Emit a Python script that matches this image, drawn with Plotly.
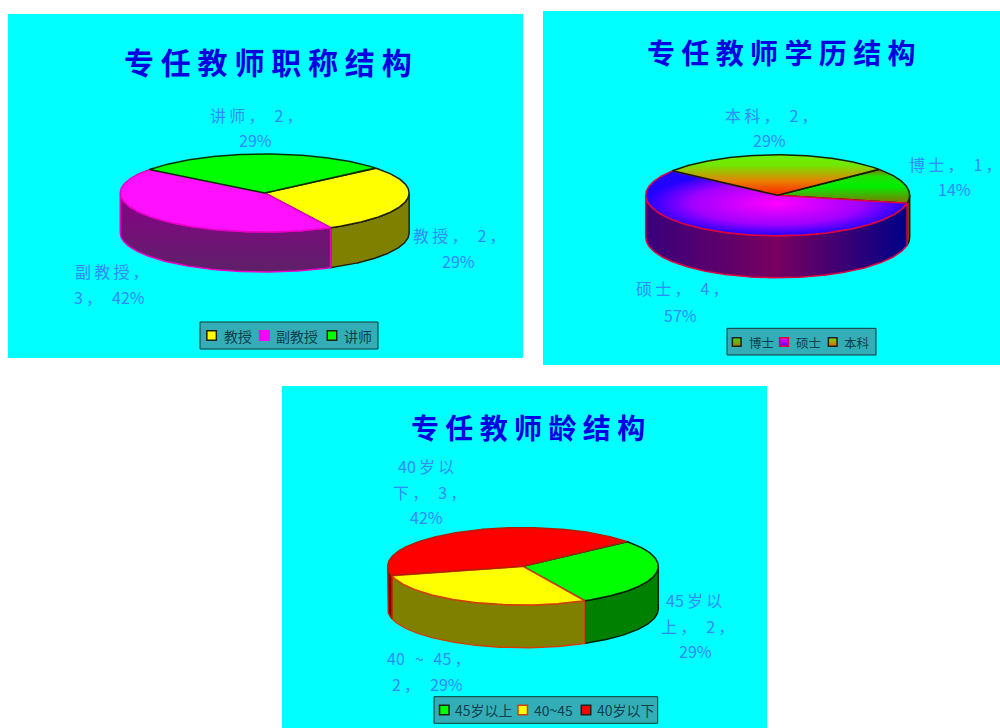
import numpy as np
import plotly.graph_objects as go

# ---------- data ----------
title_names = ["专任教师职称结构", "专任教师学历结构", "专任教师龄结构"]
rank_categories = ["教授", "副教授", "讲师"]
rank_values = [2, 3, 2]
degree_categories = ["博士", "硕士", "本科"]
degree_values = [1, 4, 2]
age_categories = ["45岁以上", "40~45", "40岁以下"]
age_values = [2, 2, 3]
rank_labels = [["教授， 2，", "29%"], ["副教授，", "3， 42%"], ["讲师， 2，", "29%"]]
degree_labels = [["博士， 1，", "14%"], ["硕士， 4，", "57%"], ["本科， 2，", "29%"]]
age_labels = [["45岁以", "上， 2，", "29%"], ["40 ~ 45，", "2， 29%"], ["40岁以", "下， 3，", "42%"]]

# ---------- layout of the page (pixels) ----------
START_ANGLE = 50
LABEL_COLOR = "#2F8CFF"
LEGEND_BG = "#33AEB6"
LEGEND_TEXT = "#104050"
CJK = "Noto Sans CJK SC"


def vert(top, bottom):
    return dict(type="vertical", colorscale=[[0, bottom], [1, top]])


panels = [
    dict(box=(8, 14, 523, 358), cx=264.7, cy=193, rx=144.4, ry=39, depth=40,
         title=(267.5, 61, 30),
         legend=dict(box=(200, 322, 378, 349), swatch_x=[211.6, 264.4, 332], text_x=[222, 273.5, 342],
                     y=335.5, font=14, size=9.5),
         cats=rank_categories, vals=rank_values, labels=rank_labels,
         label_pos=[[(455, 235), (458.4, 261)], [(107.5, 271), (109.5, 297)], [(251.5, 115), (255.6, 140)]],
         top=["#FFFF00", "#FF10FF", "#00FF00"],
         side=["#808000", vert("#8A0088", "#5E2068"), "#008000"],
         line=["#202000", "#E800C8", "#003000"],
         swatch=["#FFFF00", "#FF00FF", "#00FF00"], swatch_grad=[None, None, None],
         swatch_line=["#202020", "#FF00FF", "#202020"]),
    dict(box=(543, 11, 1000, 365), cx=777.7, cy=195.3, rx=132, ry=40.5, depth=42,
         title=(781.5, 52, 28),
         legend=dict(box=(727, 328.3, 876, 355), swatch_x=[736.7, 784, 832.7], text_x=[746.7, 794.3, 842.3],
                     y=342, font=12.5, size=8.7),
         cats=degree_categories, vals=degree_values, labels=degree_labels,
         label_pos=[[(951, 164), (954, 189)], [(677.5, 288), (680, 315)], [(767, 115), (769, 140)]],
         top=[dict(type="vertical", colorscale=[[0, "#8A7000"], [0.5, "#00F000"], [0.8, "#20E000"], [1, "#8A7000"]]),
              dict(type="radial", colorscale=[[0, "#FF00FF"], [0.65, "#A000FF"], [1, "#2000FF"]]),
              dict(type="vertical", colorscale=[[0, "#FF2000"], [0.35, "#E88000"], [0.75, "#70E800"], [1, "#70F000"]])],
         side=["#A03000",
               dict(type="horizontal", colorscale=[[0, "#38007C"], [0.5, "#780060"], [1, "#000088"]]),
               "#808000"],
         line=["#202000", "#E00040", "#102000"],
         swatch=["#40E000", "#FF00FF", "#66E800"], swatch_grad=["#A08000", "#6000FF", "#F06000"],
         swatch_line=["#202020", "#E00040", "#202020"]),
    dict(box=(282, 386, 767, 728), cx=523, cy=566.3, rx=135.3, ry=38.7, depth=42.7,
         title=(527.5, 427, 28),
         legend=dict(box=(434, 696.7, 657.7, 723.3), swatch_x=[444.3, 522.7, 586], text_x=[453.3, 531.7, 595],
                     y=710, font=14, size=9.5),
         cats=age_categories, vals=age_values, labels=age_labels,
         label_pos=[[(694, 600), (693, 626), (695, 651)], [(425, 658), (427, 684)],
                    [(426, 466), (425.5, 492), (426, 517)]],
         top=["#00FF00", "#FFFF00", "#FF0000"],
         side=["#008000", "#808000", "#800000"],
         line=["#002000", "#D04000", "#B02000"],
         swatch=["#00FF00", "#FFFF00", "#FF0000"], swatch_grad=[None, None, None],
         swatch_line=["#202020", "#D04000", "#202020"]),
]


def ring(cx, cy, rx, ry, a0, a1, dy=0.0):
    t = np.radians(np.linspace(a0, a1, max(int(abs(a1 - a0)) * 2, 2)))
    return cx + rx * np.sin(t), cy - ry * np.cos(t) + dy


def styled(trace_args, fill):
    if isinstance(fill, dict):
        trace_args["fillgradient"] = fill
    else:
        trace_args["fillcolor"] = fill
    return trace_args


def track(text):
    """Widen the tracking around CJK characters, as in the reference's bitmap font."""
    out = ""
    for a, b in zip(text, text[1:] + " "):
        out += a
        if a == " ":
            out += "\u2009\u2009"
        elif b != " " and (ord(a) > 0x2E80 or ord(b) > 0x2E80):
            out += "\u2009"
    return out


fig = go.Figure()
shapes, annotations = [], []

for k, p in enumerate(panels):
    x0, y0, x1, y1 = p["box"]
    shapes.append(dict(type="rect", xref="x", yref="y", x0=x0, y0=y0, x1=x1, y1=y1,
                       fillcolor="#00FFFF", line_width=0, layer="below"))
    cx, cy, rx, ry, depth = p["cx"], p["cy"], p["rx"], p["ry"], p["depth"]
    total = sum(p["vals"])
    edges = START_ANGLE + np.cumsum([0] + p["vals"]) / total * 360

    # side walls (only the front half of the drum is visible)
    for i in range(len(p["vals"])):
        a0, a1 = max(edges[i], 90), min(edges[i + 1], 270)
        if a1 <= a0:
            continue
        xs, ys = ring(cx, cy, rx, ry, a0, a1)
        xb, yb = ring(cx, cy, rx, ry, a1, a0, depth)
        fig.add_trace(go.Scatter(**styled(dict(
            x=np.r_[xs, xb, xs[0]], y=np.r_[ys, yb, ys[0]], mode="lines", fill="toself",
            line=dict(color=p["line"][i], width=1.5), showlegend=False, hoverinfo="skip"), p["side"][i])))

    # top faces
    for i in range(len(p["vals"])):
        xs, ys = ring(cx, cy, rx, ry, edges[i], edges[i + 1])
        fig.add_trace(go.Scatter(**styled(dict(
            x=np.r_[cx, xs, cx], y=np.r_[cy, ys, cy], mode="lines", fill="toself",
            line=dict(color=p["line"][i], width=1.5), showlegend=False,
            name=p["cats"][i], hoverinfo="name"), p["top"][i])))

    # legend box, swatches and names
    lg = p["legend"]
    bx0, by0, bx1, by1 = lg["box"]
    shapes.append(dict(type="rect", xref="x", yref="y", x0=bx0, y0=by0, x1=bx1, y1=by1,
                       fillcolor=LEGEND_BG, line=dict(color="#103838", width=1), layer="below"))
    for i, cat in enumerate(p["cats"]):
        marker = dict(symbol="square", size=lg["size"], color=p["swatch"][i],
                      line=dict(color=p["swatch_line"][i], width=1.5))
        if p["swatch_grad"][i]:
            marker["gradient"] = dict(type="vertical", color=p["swatch_grad"][i])
        fig.add_trace(go.Scatter(x=[lg["swatch_x"][i]], y=[lg["y"]], mode="markers", name=cat,
                                 marker=marker, showlegend=False, hoverinfo="name"))
        annotations.append(dict(x=lg["text_x"][i], y=lg["y"], xref="x", yref="y", xanchor="left",
                                showarrow=False, text=cat,
                                font=dict(family=CJK, size=lg["font"], color=LEGEND_TEXT)))

    # title
    tx, ty, ts = p["title"]
    annotations.append(dict(x=tx, y=ty, xref="x", yref="y", showarrow=False,
                            text="<b>%s</b>" % " ".join(title_names[k]),
                            font=dict(family=CJK, size=ts, color="#0000E0")))

    # data labels, one annotation per line; a trailing comma's blank half is discounted when centring
    for lines, poss in zip(p["labels"], p["label_pos"]):
        for line, (lx, ly) in zip(lines, poss):
            annotations.append(dict(x=lx + (4 if line.endswith("，") else 0), y=ly, xref="x", yref="y",
                                    showarrow=False, text=track(line),
                                    font=dict(family=CJK, size=16, color=LABEL_COLOR)))

fig.update_layout(
    width=1000, height=728, margin=dict(l=0, r=0, t=0, b=0),
    paper_bgcolor="white", plot_bgcolor="white", showlegend=False,
    xaxis=dict(range=[0, 1000], visible=False, fixedrange=True),
    yaxis=dict(range=[728, 0], visible=False, fixedrange=True),
    shapes=shapes, annotations=annotations,
)

fig.write_html("out.html", config=dict(displayModeBar=False),
               post_script="document.body.style.margin='0';")
